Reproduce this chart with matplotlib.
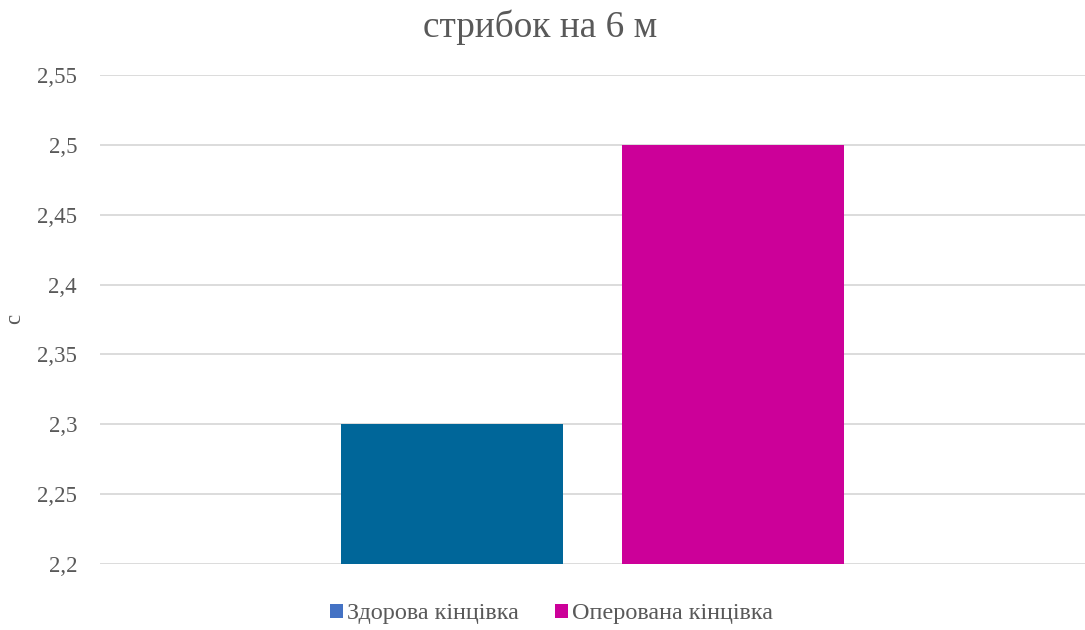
import matplotlib
matplotlib.use("Agg")
import matplotlib.pyplot as plt
from matplotlib.patches import Patch
from matplotlib.ticker import FixedLocator, FuncFormatter

plt.rcParams['font.family'] = ['Liberation Serif', 'DejaVu Serif']

title = "стрибок на 6 м"
ylabel = "с"
series_names = ["Здорова кінцівка", "Оперована кінцівка"]
values = [2.3, 2.5]
bar_colors = ["#006699", "#CC0099"]
legend_colors = ["#4472C4", "#CC0099"]
yticks = [2.2, 2.25, 2.3, 2.35, 2.4, 2.45, 2.5, 2.55]

text_color = "#595959"
grid_color = "#D9D9D9"

W, H = 1085, 630
fig = plt.figure(figsize=(W / 100, H / 100), dpi=100)
ax = fig.add_axes([100 / W, (H - 564) / H, 985 / W, 489 / H])

bar_width = 0.2254
offsets = [-0.1426, 0.1426]
for off, v, c in zip(offsets, values, bar_colors):
    ax.bar(off, v - yticks[0], bottom=yticks[0], width=bar_width, color=c, zorder=3)

ax.set_xlim(-0.5, 0.5)
ax.set_ylim(yticks[0], yticks[-1])
ax.yaxis.set_major_locator(FixedLocator(yticks))
ax.yaxis.set_major_formatter(FuncFormatter(lambda v, p: f"{v:g}".replace(".", ",")))
ax.grid(axis='y', color=grid_color, linewidth=1.3, zorder=0)
ax.set_xticks([])
for s in ax.spines.values():
    s.set_visible(False)
ax.tick_params(axis='y', length=0, pad=16.5, labelsize=16.5, labelcolor=text_color)

fig.text(15 / W, 1 - 319 / H, ylabel, rotation=90, ha='center', va='center',
         fontsize=16.5, color=text_color)
fig.text(540.5 / W, 1 - 37 / H, title, ha='center', va='baseline',
         fontsize=26.8, color=text_color)

handles = [Patch(facecolor=c, edgecolor='none') for c in legend_colors]
fig.legend(handles, series_names, loc='center', bbox_to_anchor=(551.5 / W, 1 - 614 / H),
           ncol=2, frameon=False, fontsize=17.4, labelcolor=text_color,
           handlelength=0.54, handleheight=0.54, handletextpad=0.17, columnspacing=1.5,
           borderpad=0, borderaxespad=0)

fig.savefig("out.png", dpi=100)
